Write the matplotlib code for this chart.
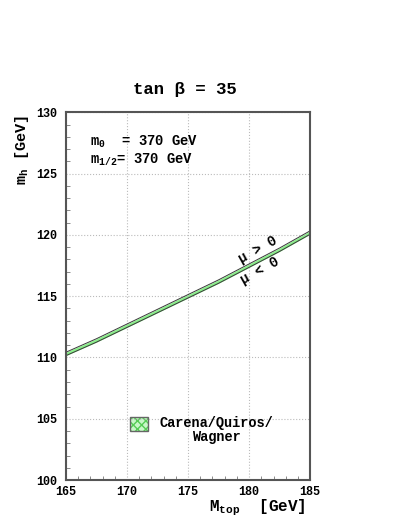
import numpy as np
import matplotlib
matplotlib.use("Agg")
import matplotlib.pyplot as plt
from matplotlib.patches import Rectangle
from matplotlib.ticker import MultipleLocator

# m_h vs M_top, Carena/Quiros/Wagner band (mu>0 upper edge, mu<0 lower edge)
mtop = [165.0, 167.5, 170.0, 172.5, 175.0, 177.5, 180.0, 182.5, 185.0]
mh_pos = [110.43, 111.53, 112.73, 113.93, 115.13, 116.33, 117.63, 118.93, 120.33]
mh_neg = [110.15, 111.25, 112.45, 113.65, 114.85, 116.05, 117.35, 118.65, 120.05]

mono = ["Liberation Mono", "DejaVu Sans Mono"]
plt.rcParams["mathtext.fontset"] = "custom"
plt.rcParams["mathtext.rm"] = "Liberation Mono:bold"
plt.rcParams["mathtext.it"] = "Liberation Mono:bold"
plt.rcParams["mathtext.bf"] = "Liberation Mono:bold"

green = "#8af08a"
dark = "#3a3a3a"

fig = plt.figure(figsize=(4.07, 5.27), dpi=100)
ax = fig.add_axes([0.162, 0.089, 0.600, 0.698])

ax.fill_between(mtop, mh_neg, mh_pos, color=green, lw=0)
ax.plot(mtop, mh_pos, color=dark, lw=0.7)
ax.plot(mtop, mh_neg, color=dark, lw=0.7)

ax.set_xlim(165, 185)
ax.set_ylim(100, 130)
ax.xaxis.set_major_locator(MultipleLocator(5))
ax.yaxis.set_major_locator(MultipleLocator(5))
ax.xaxis.set_minor_locator(MultipleLocator(1))
ax.yaxis.set_minor_locator(MultipleLocator(1))
ax.grid(True, which="major", color="#bbbbbb", ls=":", lw=0.8)
ax.tick_params(which="both", direction="in", top=False, right=False,
               labelsize=8.5)
ax.tick_params(axis="y", pad=6)
ax.tick_params(axis="x", pad=4)
ax.tick_params(which="major", length=0)
ax.tick_params(which="minor", length=3, color="#777777")
for lab in ax.get_xticklabels() + ax.get_yticklabels():
    lab.set_family(mono)
    lab.set_fontweight("bold")
for s in ax.spines.values():
    s.set_color("#555555")
    s.set_linewidth(1.5)

fig.text(0.455, 0.831, "tan β = 35", family=mono, fontweight="bold",
         fontsize=12.5, ha="center", va="center")
fig.text(0.054, 0.715, r"m$_\mathregular{h}$ [GeV]", family=mono, fontweight="bold",
         fontsize=11, rotation=90, ha="center", va="center")
fig.text(0.752, 0.036, r"M$_\mathregular{top}$  [GeV]", family=mono, fontweight="bold",
         fontsize=11.5, ha="right", va="center")

ax.text(166.95, 127.55, "m$_\\mathregular{0}$  = 370 GeV",
        family=mono, fontweight="bold", fontsize=10, ha="left", va="center")
ax.text(166.95, 126.1, "m$_\\mathregular{1/2}$= 370 GeV",
        family=mono, fontweight="bold", fontsize=10, ha="left", va="center")

ax.text(180.7, 118.75, "μ > 0", family=mono, fontweight="bold", fontsize=10,
        rotation=29, ha="center", va="center", rotation_mode="anchor")
ax.text(180.9, 117.1, "μ < 0", family=mono, fontweight="bold", fontsize=10,
        rotation=29, ha="center", va="center", rotation_mode="anchor")

# legend
ax.add_patch(Rectangle((170.25, 104.0), 1.47, 1.14, facecolor="#c8f7c8",
                       edgecolor="#55cc55", hatch="xxxx", lw=0))
ax.add_patch(Rectangle((170.25, 104.0), 1.47, 1.14, fill=False,
                       edgecolor="#666666", lw=1.0))
ax.text(177.3, 104.62, "Carena/Quiros/", family=mono, fontweight="bold",
        fontsize=9.8, ha="center", va="center")
ax.text(177.3, 103.5, "Wagner", family=mono, fontweight="bold",
        fontsize=9.8, ha="center", va="center")

fig.savefig("out.png", dpi=100)
